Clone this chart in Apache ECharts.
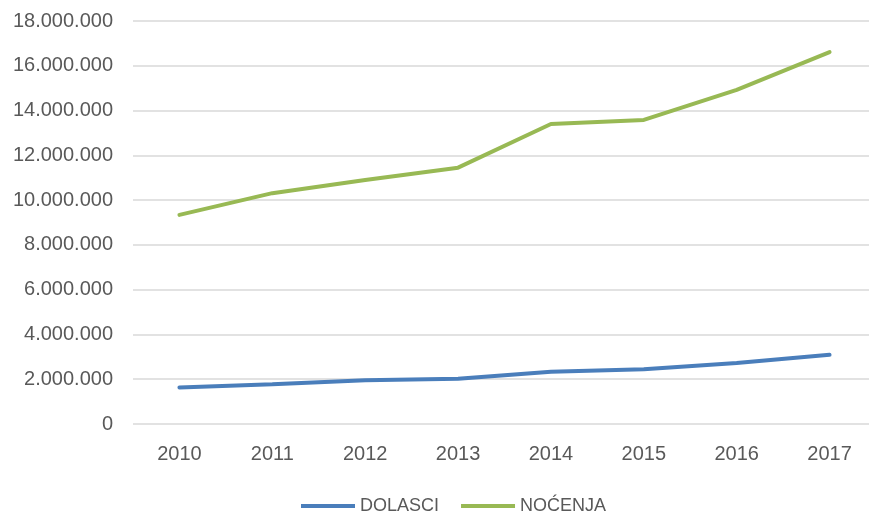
<!DOCTYPE html>
<html lang="hr">
<head>
    <meta charset="utf-8"/>
    <title>Dolasci i noćenja</title>
    <script src="https://cdn.jsdelivr.net/npm/echarts@6/dist/echarts.min.js"></script>
    <style>
        * { margin: 0; padding: 0; }
        html, body { width: 100%; height: 100%; background: #fff; }
        #main { width: 869px; height: 514px; }
    </style>
</head>
<body>
<div id="main"></div>
<script>
    // godine
    var years = ['2010', '2011', '2012', '2013', '2014', '2015', '2016', '2017'];
    // dolasci
    var dolasci = [1630000, 1780000, 1950000, 2020000, 2330000, 2450000, 2720000, 3090000];
    // noćenja
    var nocenja = [9340000, 10310000, 10900000, 11450000, 13400000, 13580000, 14920000, 16610000];

    var gray = '#595959';
    var font = 'Liberation Sans';

    // 18000000 -> 18.000.000
    function fmt(v) {
        return String(v).replace(/\B(?=(\d{3})+(?!\d))/g, '.');
    }

    var chart = echarts.init(document.getElementById('main'));
    chart.setOption({
        animation: false,
        backgroundColor: '#fff',
        grid: {
            left: 133,
            top: 21,
            width: 743,
            bottom: 90,
            containLabel: false,
            outerBoundsMode: 'none'
        },
        legend: {
            left: 296,
            top: 492,
            icon: 'rect',
            itemWidth: 54,
            itemHeight: 4,
            itemGap: 22,
            textStyle: { color: gray, fontSize: 18, fontFamily: font },
            data: ['DOLASCI', 'NOĆENJA']
        },
        xAxis: {
            type: 'category',
            data: years,
            boundaryGap: true,
            axisLine: { show: false },
            axisTick: { show: false },
            axisLabel: { color: gray, fontSize: 20, fontFamily: font, margin: 20 }
        },
        yAxis: {
            type: 'value',
            min: 0,
            max: 18000000,
            interval: 2000000,
            axisLine: { show: false },
            axisTick: { show: false },
            splitLine: { lineStyle: { color: '#d9d9d9', width: 1.5 } },
            axisLabel: { color: gray, fontSize: 20, fontFamily: font, margin: 20, formatter: fmt }
        },
        series: [
            {
                name: 'DOLASCI',
                type: 'line',
                data: dolasci,
                showSymbol: false,
                color: '#4a7ebb',
                lineStyle: { width: 4, cap: 'round' }
            },
            {
                name: 'NOĆENJA',
                type: 'line',
                data: nocenja,
                showSymbol: false,
                color: '#98b954',
                lineStyle: { width: 4, cap: 'round' }
            }
        ]
    });
</script>
</body>
</html>
